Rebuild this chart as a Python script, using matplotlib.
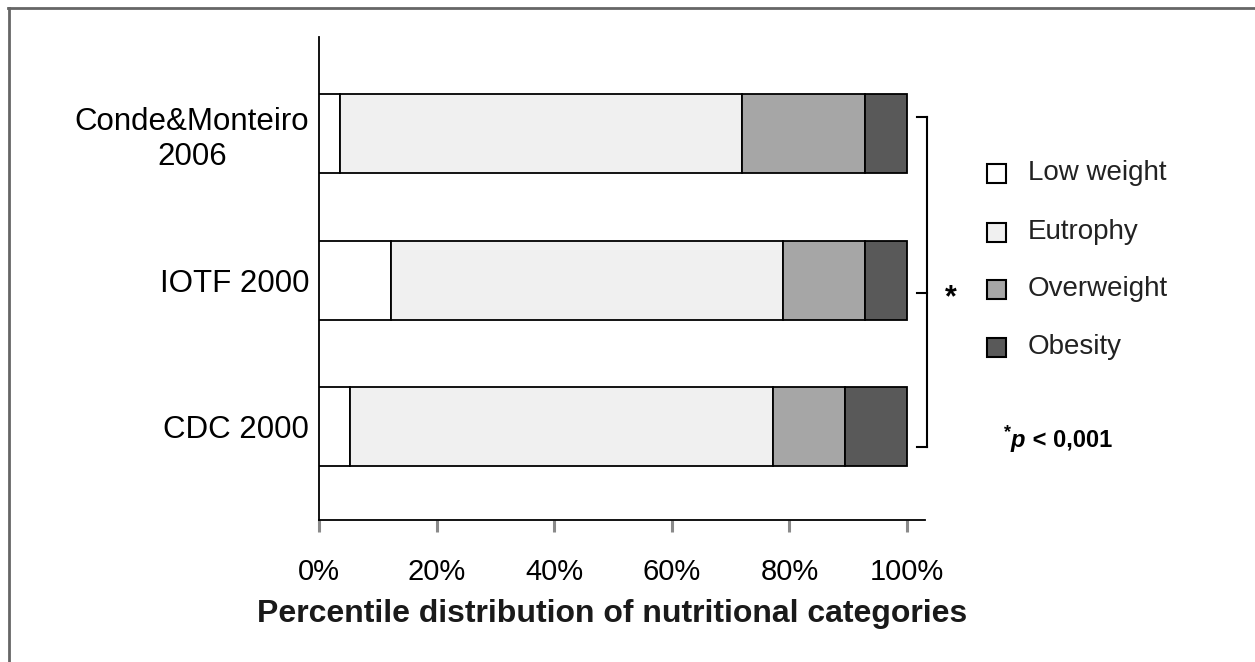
import matplotlib
matplotlib.use("Agg")
import matplotlib.pyplot as plt
from matplotlib.lines import Line2D
from matplotlib.patches import Rectangle
import numpy as np

categories = ["Conde&Monteiro\n2006", "IOTF 2000", "CDC 2000"]
series_names = ["Low weight", "Eutrophy", "Overweight", "Obesity"]
low_weight = [3.5, 12.3, 5.3]
eutrophy = [68.4, 66.6, 71.9]
overweight = [21.0, 13.9, 12.3]
obesity = [7.1, 7.2, 10.5]
colors = ["#ffffff", "#f0f0f0", "#a6a6a6", "#595959"]
xticks = [0, 20, 40, 60, 80, 100]
xticklabels = ["0%", "20%", "40%", "60%", "80%", "100%"]

W, H = 1255, 662
fig = plt.figure(figsize=(W / 100, H / 100), dpi=100)
plt.rcParams['font.family'] = ['Liberation Sans', 'DejaVu Sans']

def fx(x):
    return x / W

def fy(y):
    return 1 - y / H

ax = fig.add_axes([fx(319), fy(520), (925 - 319) / W, (520 - 37) / H])

ypos = np.array([2, 1, 0])
series = [low_weight, eutrophy, overweight, obesity]
left = np.zeros(3)
for vals, col in zip(series, colors):
    ax.barh(ypos, vals, left=left, height=0.54, color=col,
            edgecolor="black", linewidth=1.3, zorder=3)
    left = left + np.array(vals)

ax.set_xlim(0, 103.06)
ax.set_ylim(-0.635, 2.66)
ax.set_xticks(xticks)
ax.set_xticklabels(xticklabels, fontsize=21)
ax.tick_params(axis='x', direction='out', length=8.5, width=2.2,
               color='#8a8a8a', pad=19)
ax.set_yticks(ypos)
ax.set_yticklabels(categories, fontsize=22.5)
for lab in ax.get_yticklabels():
    lab.set_multialignment('center')
ax.tick_params(axis='y', length=0, pad=7)
for s in ['top', 'right']:
    ax.spines[s].set_visible(False)
ax.spines['left'].set_linewidth(1.3)
ax.spines['bottom'].set_linewidth(1.3)

# x label
fig.text(fx(612), fy(614), "Percentile distribution of nutritional categories",
         ha='center', va='center', fontsize=23, fontweight='bold',
         color='#1a1a1a')

# bracket
bx = 927
for (x0, y0, x1, y1) in [(bx, 117, bx, 447), (917, 117, bx, 117),
                          (917, 293, bx, 293), (917, 447, bx, 447)]:
    fig.add_artist(Line2D([fx(x0), fx(x1)], [fy(y0), fy(y1)],
                          color='black', linewidth=1.5))
fig.text(fx(951), fy(298), "*", ha='center', va='center',
         fontsize=22, fontweight='bold')

# legend
leg_y = [173, 232, 289, 347]
for name, col, yy in zip(series_names, colors, leg_y):
    fig.add_artist(Rectangle((fx(987), fy(yy + 10)), 19 / W, 19 / H,
                             facecolor=col, edgecolor='black', linewidth=1.5))
    fig.text(fx(1028), fy(yy), name, ha='left', va='center', fontsize=20,
             color='#222222')

# significance note
fig.text(fx(1004), fy(433), "*", ha='left', va='center', fontsize=13,
         fontweight='bold')
fig.text(fx(1011), fy(440), "p", ha='left', va='center', fontsize=17,
         fontweight='bold', style='italic')
fig.text(fx(1026), fy(440), " < 0,001", ha='left', va='center', fontsize=17,
         fontweight='bold')

# outer border (top and left)
fig.add_artist(Line2D([fx(8), 1], [fy(7.5), fy(7.5)], color='#666666', linewidth=2))
fig.add_artist(Line2D([fx(8.5), fx(8.5)], [fy(7.5), 0], color='#666666', linewidth=2))

fig.savefig("out.png", dpi=100)
